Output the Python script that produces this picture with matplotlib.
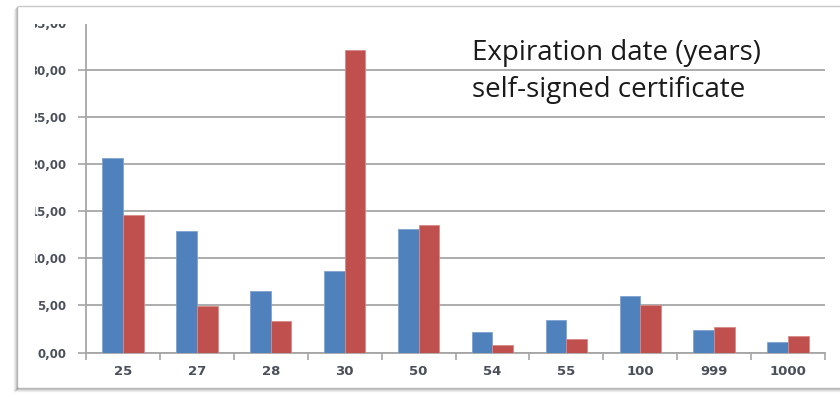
import matplotlib
matplotlib.use("Agg")
import matplotlib.pyplot as plt
from matplotlib.patches import Rectangle
from matplotlib.lines import Line2D
import numpy as np

# Expiration period of certificates (years) and the share in each group
categories = ["25", "27", "28", "30", "50", "54", "55", "100", "999", "1000"]
series_blue = [20.6, 12.9, 6.5, 8.6, 13.1, 2.15, 3.45, 5.95, 2.4, 1.1]
series_red = [14.6, 4.9, 3.3, 32.1, 13.5, 0.8, 1.45, 5.0, 2.7, 1.8]
y_ticks = [0, 5, 10, 15, 20, 25, 30, 35]
y_tick_labels = ["0,00", "5,00", "10,00", "15,00", "20,00", "25,00", "30,00", "35,00"]
note_lines = ["Expiration date (years)", "self-signed certificate"]

W, H = 840, 395
fig = plt.figure(figsize=(W / 100, H / 100), dpi=100)
fig.patch.set_facecolor("white")

def fx(px):
    return px / W

def fy(py):
    return 1 - py / H

ax = fig.add_axes([fx(86), fy(352.5), fx(825) - fx(86), fy(22.6) - fy(352.5)])
ax.set_facecolor("white")

x = np.arange(len(categories))
bw = 0.28
ax.bar(x - bw / 2, series_blue, width=bw, color="#4F81BD", edgecolor="#7FA3D0",
       linewidth=0.6, zorder=3)
ax.bar(x + bw / 2, series_red, width=bw, color="#C0504D", edgecolor="#D88A88",
       linewidth=0.6, zorder=3)

ax.set_xlim(-0.5, len(categories) - 0.5)
ax.set_ylim(0, 35)

grid_col = "#A6A6A6"
label_col = "#4A4F5A"
ax.set_yticks(y_ticks)
ax.set_yticklabels(y_tick_labels)
ax.yaxis.grid(True, color=grid_col, linewidth=1.3, zorder=0)
ax.set_axisbelow(True)
ax.tick_params(axis="y", direction="out", length=6, width=1.2, color=grid_col,
               pad=8, labelsize=8.5, labelcolor=label_col)
for lab in ax.get_yticklabels():
    lab.set_fontweight("bold")

# category boundaries carry the tick marks, centers carry the labels
ax.set_xticks(np.arange(len(categories) + 1) - 0.5)
ax.set_xticklabels([])
ax.set_xticks(x, minor=True)
ax.set_xticklabels(categories, minor=True)
ax.tick_params(axis="x", which="major", direction="out", length=5, width=1.2,
               color=grid_col)
ax.tick_params(axis="x", which="minor", length=0, pad=9, labelsize=9.5,
               labelcolor=label_col)
for lab in ax.get_xticklabels(minor=True):
    lab.set_fontweight("bold")

for side in ["top", "right"]:
    ax.spines[side].set_visible(False)
for side in ["left", "bottom"]:
    ax.spines[side].set_color(grid_col)
    ax.spines[side].set_linewidth(1.3)

# annotation text in the upper right of the plot
for i, line in enumerate(note_lines):
    ax.text(fx(472), fy(60 + 37 * i), line, transform=fig.transFigure,
            fontsize=20, family=["Open Sans", "DejaVu Sans"], color="#1A1A1A",
            ha="left", va="baseline")

# white margins of the framed panel that trim the outer tick labels
fig.add_artist(Rectangle((fx(19), fy(385)), fx(35) - fx(19), fy(8) - fy(385),
                         transform=fig.transFigure, facecolor="white",
                         edgecolor="none", zorder=10))
fig.add_artist(Rectangle((fx(19), fy(24)), 1 - fx(19), fy(8) - fy(24),
                         transform=fig.transFigure, facecolor="white",
                         edgecolor="none", zorder=10))

# panel frame with a soft shadow on the left and bottom
for i, a in enumerate([0.55, 0.35, 0.2, 0.1]):
    fig.add_artist(Line2D([fx(17 - i), fx(17 - i)], [fy(7 + i), fy(388 + i)],
                          transform=fig.transFigure, color="#808080", alpha=a,
                          linewidth=1.0, zorder=11))
    fig.add_artist(Line2D([fx(17 - i), 1], [fy(388 + i), fy(388 + i)],
                          transform=fig.transFigure, color="#808080", alpha=a,
                          linewidth=1.0, zorder=11))
fig.add_artist(Line2D([fx(18), 1], [fy(6), fy(6)], transform=fig.transFigure,
                      color="#C8C8C8", linewidth=1.0, zorder=11))

fig.savefig("out.png", dpi=100, facecolor="white")
